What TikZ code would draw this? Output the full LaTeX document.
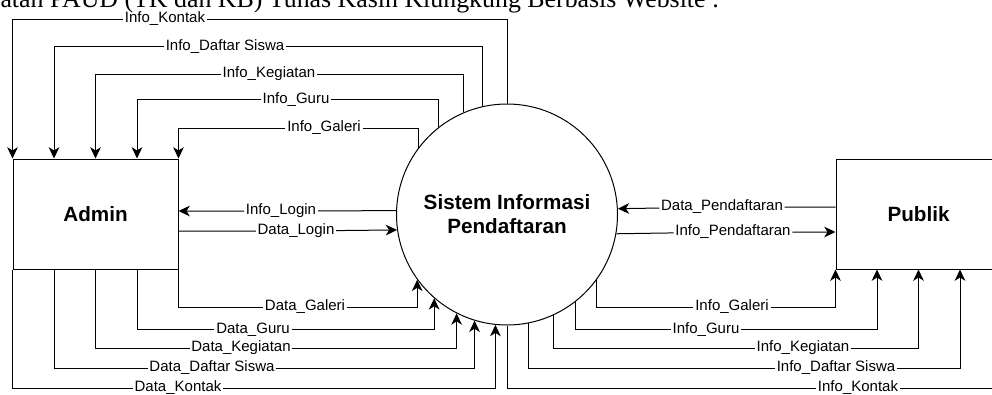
\documentclass[tikz,border=0pt]{standalone}
\usepackage{fontspec}
\setmainfont{Liberation Sans}
\newfontfamily\capfont{Liberation Serif}
\usetikzlibrary{arrows.meta,calc}

\begin{document}
\begin{tikzpicture}[x=0.75pt,y=-0.75pt,line width=0.75pt,
    entity/.style={draw,minimum width=123.75pt,minimum height=82.5pt,inner sep=0pt,
        font=\bfseries\fontsize{15.5}{18}\selectfont},
    process/.style={draw,circle,minimum size=165.75pt,inner sep=0pt,align=center,
        font=\bfseries\fontsize{15.5}{18}\selectfont},
    lbl/.style={inner sep=1pt,font=\fontsize{11.25}{13}\selectfont},
    flow/.style={-{Stealth[length=8.5pt,width=8pt,inset=2.5pt]}}]
    \useasboundingbox (0,0) rectangle (992,394);
    \clip (0,0) rectangle (992,394);

    \node[anchor=base west,inner sep=0pt,font=\capfont\fontsize{19.4}{22}\selectfont] (capt) at (0,7.5)
        {atan PAUD (TK dan KB) Tunas Kasih Klungkung Berbasis Website :};

    \node[entity] (admin) at (95.5,214) {Admin};
    \node[process] (sys) at (507,214.5) {Sistem Informasi\\Pendaftaran};
    \node[entity] (publik) at (918.5,214) {Publik};

    % titik sambung pada sisi kotak
    \coordinate (at1) at ($(admin.north west)!.25!(admin.north east)$);
    \coordinate (at2) at ($(admin.north west)!.5!(admin.north east)$);
    \coordinate (at3) at ($(admin.north west)!.75!(admin.north east)$);
    \coordinate (ab1) at ($(admin.south west)!.25!(admin.south east)$);
    \coordinate (ab2) at ($(admin.south west)!.5!(admin.south east)$);
    \coordinate (ab3) at ($(admin.south west)!.75!(admin.south east)$);
    \coordinate (pb1) at ($(publik.south west)!.25!(publik.south east)$);
    \coordinate (pb2) at ($(publik.south west)!.5!(publik.south east)$);
    \coordinate (pb3) at ($(publik.south west)!.75!(publik.south east)$);

    % label alur
    \node[lbl] (iKontak) at (165,19) {Info\_Kontak};
    \node[lbl] (iSiswa) at (225,46.5) {Info\_Daftar Siswa};
    \node[lbl] (iKegiatan) at (269,74) {Info\_Kegiatan};
    \node[lbl] (iGuru) at (296,99.5) {Info\_Guru};
    \node[lbl] (iGaleri) at (324,128) {Info\_Galeri};

    \node[lbl] (dGaleri) at (305,307) {Data\_Galeri};
    \node[lbl] (dGuru) at (253,329.5) {Data\_Guru};
    \node[lbl] (dKegiatan) at (241,348) {Data\_Kegiatan};
    \node[lbl] (dSiswa) at (212,368) {Data\_Daftar Siswa};
    \node[lbl] (dKontak) at (178,388) {Data\_Kontak};

    \node[lbl] (pGaleri) at (732,307) {Info\_Galeri};
    \node[lbl] (pGuru) at (706,329.5) {Info\_Guru};
    \node[lbl] (pKegiatan) at (803,348) {Info\_Kegiatan};
    \node[lbl] (pSiswa) at (836,368) {Info\_Daftar Siswa};
    \node[lbl] (pKontak) at (858,388) {Info\_Kontak};

    \node[lbl] (iLogin) at (281,211) {Info\_Login};
    \node[lbl] (dLogin) at (296,231) {Data\_Login};
    \node[lbl] (dDaftar) at (722,207) {Data\_Pendaftaran};
    \node[lbl] (iDaftar) at (733,232) {Info\_Pendaftaran};

    % sistem ke admin
    \draw[flow] (sys.90) |- (iKontak) -| (admin.north west);
    \draw[flow] (sys.103.1) |- (iSiswa) -| (at1);
    \draw[flow] (sys.113.5) |- (iKegiatan) -| (at2);
    \draw[flow] (sys.128.6) |- (iGuru) -| (at3);
    \draw[flow] (sys.143.6) |- (iGaleri) -| (admin.north east);

    % admin ke sistem
    \draw[flow] (admin.south east) |- (dGaleri) -| (sys.216.4);
    \draw[flow] (ab3) |- (dGuru) -| (sys.229.3);
    \draw[flow] (ab2) |- (dKegiatan) -| (sys.243.7);
    \draw[flow] (ab1) |- (dSiswa) -| (sys.253.2);
    \draw[flow] (admin.south west) |- (dKontak) -| (sys.264.3);

    % sistem ke publik
    \draw[flow] (sys.324.5) |- (pGaleri) -| (publik.south west);
    \draw[flow] (sys.308.6) |- (pGuru) -| (pb1);
    \draw[flow] (sys.295.7) |- (pKegiatan) -| (pb2);
    \draw[flow] (sys.281) |- (pSiswa) -| (pb3);
    \draw[flow] (sys.270) |- (pKontak) -| (publik.south east);

    % login dan pendaftaran
    \draw[flow] (sys.178.2) -- (iLogin) -- (iLogin -| admin.east);
    \draw[flow] (dLogin -| admin.east) -- (dLogin) -- (sys.188.6);
    \draw[flow] (dDaftar -| publik.west) -- (dDaftar) -- (sys.3.9);
    \draw[flow] (sys.350.9) -- (iDaftar) -- (iDaftar -| publik.west);
\end{tikzpicture}
\end{document}
